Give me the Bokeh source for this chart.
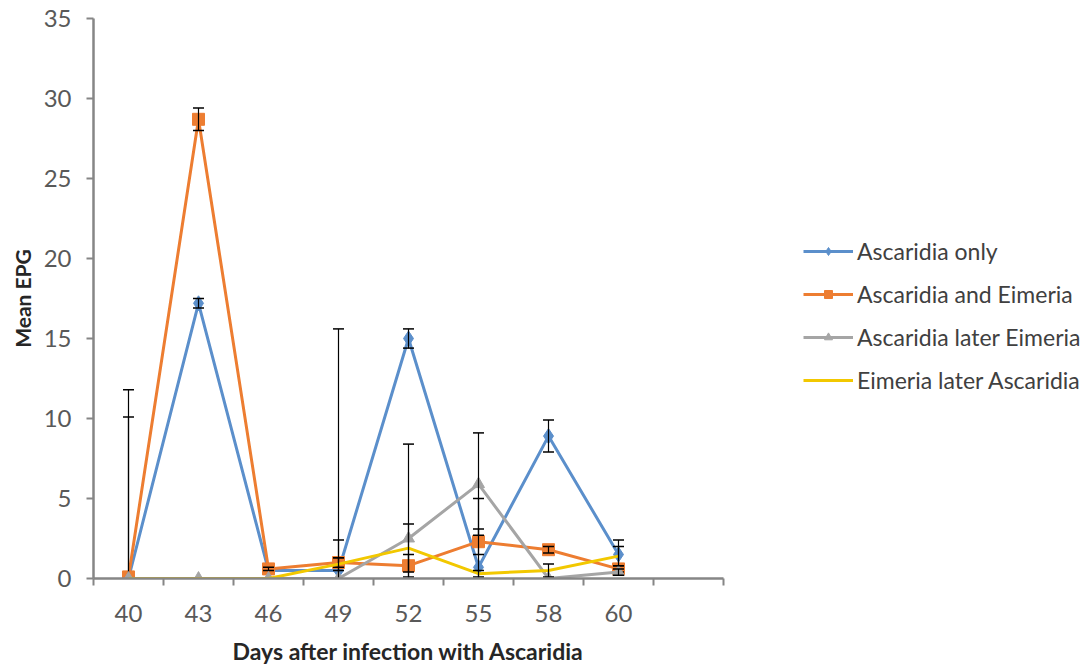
import numpy as np
from bokeh.plotting import figure
from bokeh.models import Range1d, FixedTicker, Legend, LegendItem
from bokeh.embed import file_html
from bokeh.resources import INLINE

# ---- data ----
days = ["40", "43", "46", "49", "52", "55", "58", "60"]
n_slots = 9  # one empty slot after 60

asc_only = [0.0, 17.2, 0.5, 0.5, 15.0, 0.7, 8.9, 1.5]
asc_only_err = [11.8, 0.3, 0.2, 15.1, 0.6, 4.3, 1.0, 0.9]

asc_eim = [0.1, 28.7, 0.6, 1.0, 0.8, 2.3, 1.8, 0.6]
asc_eim_err = [10.0, 0.7, 0.1, 0.3, 0.7, 0.8, 0.2, 0.2]

asc_later = [0.0, 0.0, 0.0, 0.0, 2.5, 5.9, 0.0, 0.4]
asc_later_err = [0.0, 0.0, 0.0, 2.4, 5.9, 3.2, 0.0, 0.2]

eim_later = [0.0, 0.0, 0.0, 0.9, 1.9, 0.3, 0.5, 1.4]
eim_later_err = [0.0, 0.0, 0.0, 0.4, 1.5, 0.2, 0.4, 0.6]

names = ["Ascaridia only", "Ascaridia and Eimeria", "Ascaridia later Eimeria", "Eimeria later Ascaridia"]
colors = ["#5B8FCB", "#ED7D31", "#A5A5A5", "#F2C800"]
markers = ["diamond", "square", "triangle", None]
msizes = [15, 12, 12, 0]

series = [(asc_only, asc_only_err), (asc_eim, asc_eim_err), (asc_later, asc_later_err), (eim_later, eim_later_err)]

FONT = "Lato"
x = np.arange(len(days)) + 0.5

p = figure(frame_width=630, frame_height=560, output_backend="svg", toolbar_location=None,
           x_range=Range1d(0, n_slots), y_range=Range1d(0, 35),
           min_border_left=93, min_border_right=366, min_border_top=18, min_border_bottom=86)
p.outline_line_color = None
p.xgrid.visible = False
p.ygrid.visible = False
p.background_fill_color = "white"
p.border_fill_color = "white"

axis_color = "#868686"
# y axis
p.yaxis.ticker = FixedTicker(ticks=[0, 5, 10, 15, 20, 25, 30, 35])
p.yaxis.axis_line_color = axis_color
p.yaxis.axis_line_width = 2.5
p.yaxis.major_tick_line_color = axis_color
p.yaxis.major_tick_line_width = 2
p.yaxis.major_tick_in = 0
p.yaxis.major_tick_out = 7
p.yaxis.minor_tick_line_color = None
p.yaxis.major_label_standoff = 15
p.yaxis.major_label_text_font = FONT
p.yaxis.major_label_text_font_size = "24px"
p.yaxis.major_label_text_color = "#595959"
p.yaxis.axis_label = "Mean EPG"
p.yaxis.axis_label_text_font = FONT
p.yaxis.axis_label_text_font_size = "21px"
p.yaxis.axis_label_text_font_style = "bold"
p.yaxis.axis_label_text_color = "#262626"
p.yaxis.axis_label_standoff = 6

# x axis
p.xaxis.ticker = FixedTicker(ticks=list(x), minor_ticks=list(range(0, n_slots + 1)))
p.xaxis.major_label_overrides = {float(xx): d for xx, d in zip(x, days)}
p.xaxis.axis_line_color = axis_color
p.xaxis.axis_line_width = 2.5
p.xaxis.major_tick_line_color = None
p.xaxis.major_tick_in = 0
p.xaxis.major_tick_out = 0
p.xaxis.minor_tick_line_color = axis_color
p.xaxis.minor_tick_line_width = 2
p.xaxis.minor_tick_in = 0
p.xaxis.minor_tick_out = 7
p.xaxis.major_label_standoff = 19
p.xaxis.major_label_text_font = FONT
p.xaxis.major_label_text_font_size = "24px"
p.xaxis.major_label_text_color = "#595959"
p.xaxis.axis_label = "Days after infection with Ascaridia"
p.xaxis.axis_label_text_font = FONT
p.xaxis.axis_label_text_font_size = "23px"
p.xaxis.axis_label_text_font_style = "bold"
p.xaxis.axis_label_text_color = "#262626"
p.xaxis.axis_label_standoff = 12

items = []
for (vals, errs), name, col, mk, ms in zip(series, names, colors, markers, msizes):
    vals = np.array(vals)
    errs = np.array(errs)
    rs = []
    rs.append(p.line(x, vals, line_color=col, line_width=3))
    if mk:
        rs.append(p.scatter(x, vals, marker=mk, size=ms, fill_color=col, line_color=col))
    mask = errs > 0
    hi = vals + errs
    lo = vals - errs
    p.segment(x0=x[mask], y0=lo[mask], x1=x[mask], y1=hi[mask], line_color="black", line_width=1.2)
    p.scatter(np.concatenate([x[mask], x[mask]]), np.concatenate([hi[mask], lo[mask]]),
              marker="dash", size=11, line_color="black", line_width=1.5)
    items.append(LegendItem(label=name, renderers=rs))

legend = Legend(items=items, location=(80, 184), glyph_width=50, glyph_height=20,
                label_height=20, spacing=15, padding=0, margin=0, label_standoff=4,
                label_text_font=FONT, label_text_font_size="23px", label_text_color="#404040",
                border_line_color=None, background_fill_alpha=0)
p.add_layout(legend, "right")

open("out.html", "w").write(file_html(p, INLINE))
